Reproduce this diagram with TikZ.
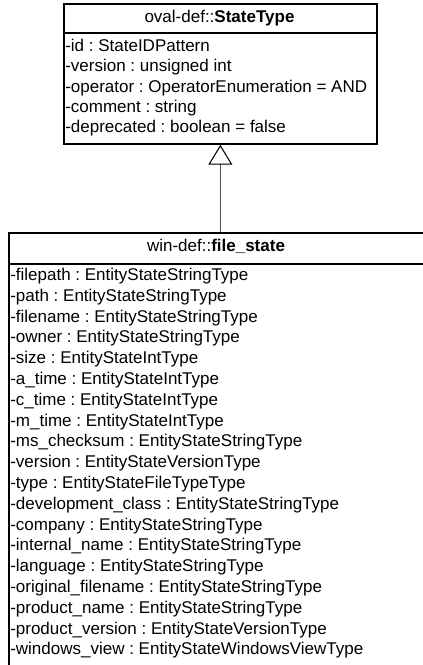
\documentclass[tikz,border=0pt]{standalone}
\usepackage{fontspec}
\setmainfont{Liberation Sans}
\usetikzlibrary{arrows.meta}
\frenchspacing
\begin{document}
\begin{tikzpicture}[x=0.75pt,y=-0.75pt,
  box/.style={draw=black, line width=1.3pt, rectangle, inner sep=0pt, anchor=north west},
  sep/.style={draw=black, line width=1.3pt},
  txt/.style={inner sep=0pt, font=\fontsize{12.75pt}{15pt}\selectfont\frenchspacing, text height=0.72em, text depth=0.2em},
  attr/.style={txt, anchor=west},
  head/.style={txt, anchor=center},
  gen/.style={draw=black!70, line width=0.8pt, -{Triangle[open, length=15pt, width=18pt, color=black, line width=0.8pt]}}
]
\useasboundingbox (0,0) rectangle (423,665);
\clip (0,0) rectangle (423,665);

% super class
\node[box, minimum width=234.75pt, minimum height=105pt] (super) at (63,3) {};
\draw[sep] (63,33) -- (376,33);
\node[head] (superhead) at (219.5,19) {oval-def::\textbf{StateType}};
\foreach \t [count=\i from 0] in {
  -id : StateIDPattern,
  -version : unsigned int,
  -operator : OperatorEnumeration = AND,
  -comment : string,
  -deprecated : boolean = false}
  \node[attr] (sa\i) at (65,{48.3+20.2*\i}) {\t};

% sub class
\node[box, minimum width=312pt, minimum height=328.5pt] (sub) at (8,232) {};
\draw[sep] (8,264) -- (424,264);
\node[head] (subhead) at (216,248) {win-def::\textbf{file\_state}};
\foreach \t [count=\i from 0] in {
  -filepath : EntityStateStringType,
  -path : EntityStateStringType,
  -filename : EntityStateStringType,
  -owner : EntityStateStringType,
  -size : EntityStateIntType,
  -a\_time : EntityStateIntType,
  -c\_time : EntityStateIntType,
  -m\_time : EntityStateIntType,
  -ms\_checksum : EntityStateStringType,
  -version : EntityStateVersionType,
  -type : EntityStateFileTypeType,
  -development\_class : EntityStateStringType,
  -company : EntityStateStringType,
  -internal\_name : EntityStateStringType,
  -language : EntityStateStringType,
  -original\_filename : EntityStateStringType,
  -product\_name : EntityStateStringType,
  -product\_version : EntityStateVersionType,
  -windows\_view : EntityStateWindowsViewType}
  \node[attr] (sb\i) at (10,{277+20.8*\i}) {\t};

% generalization
\draw[gen] (super.south |- sub.north) -- (super.south);
\end{tikzpicture}
\end{document}
